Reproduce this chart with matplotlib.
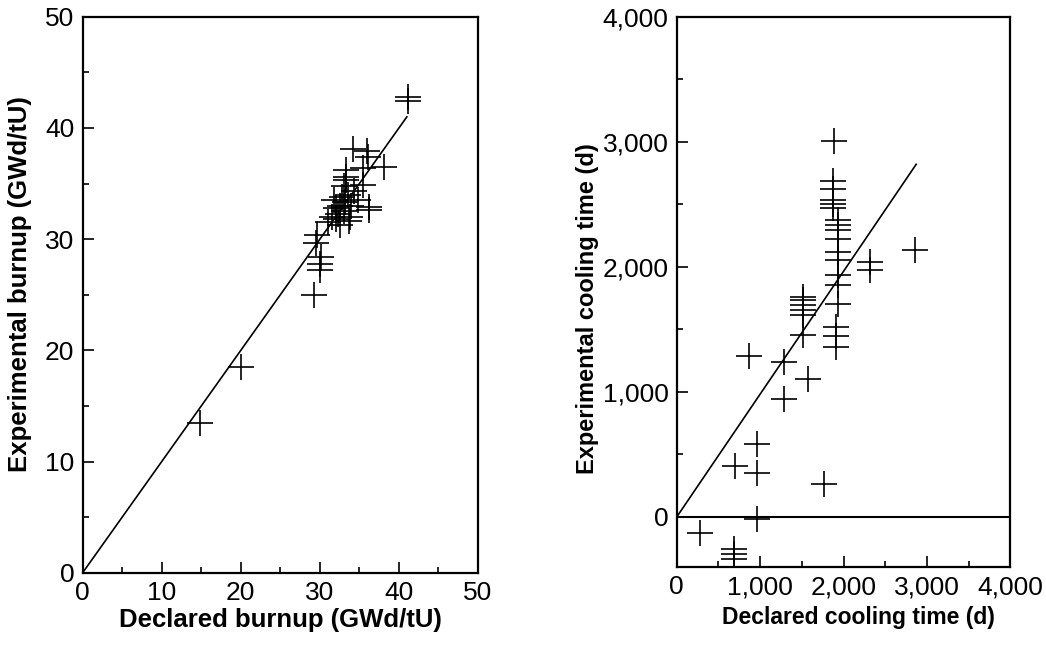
import matplotlib
matplotlib.use("Agg")
import matplotlib.pyplot as plt
from matplotlib.ticker import MultipleLocator, StrMethodFormatter

plt.rcParams['font.family'] = ['Liberation Sans', 'DejaVu Sans']

# burnup (GWd/tU): declared vs experimental
burnup_declared = [14.9, 20.0, 29.3, 30.0, 30.0, 30.1, 29.5, 29.7, 31.0, 31.5,
                   32.0, 32.3, 32.0, 32.5, 33.0, 33.2, 32.8, 33.5, 34.0, 33.8,
                   32.5, 31.8, 34.3, 33.0, 33.3, 33.3, 33.3, 35.5, 35.4, 36.1,
                   36.0, 34.2, 38.1, 36.2, 36.2, 41.2, 41.2, 34.8, 33.7]
burnup_experimental = [13.5, 18.5, 25.0, 27.2, 27.8, 28.4, 29.7, 30.4, 31.5, 32.0,
                       31.8, 32.3, 32.8, 33.0, 32.5, 33.3, 33.8, 34.0, 33.0, 32.0,
                       31.3, 33.5, 34.3, 34.8, 35.3, 35.6, 36.2, 34.9, 36.4, 37.4,
                       37.9, 38.1, 36.5, 32.6, 32.9, 42.8, 42.4, 33.5, 31.6]
burnup_line_x = [0, 41]
burnup_line_y = [0, 41]

# cooling time (d): declared vs experimental
cool_declared = [1880, 1877, 1877, 1877, 1877, 1877, 1937, 1937, 1937, 1937,
                 1937, 1937, 1937, 1937, 1937, 1910, 1910, 1910,
                 2320, 2320, 2860, 1516, 1516, 1516, 1516, 1516, 1509,
                 870, 1280, 1570, 1285, 965, 700, 965, 1760, 965, 280,
                 690, 690, 690]
cool_experimental = [3010, 2683, 2624, 2536, 2504, 2469, 2371, 2336, 2291, 2224,
                     2117, 2051, 1931, 1851, 1704, 1517, 1451, 1363,
                     2037, 1971, 2131, 1757, 1731, 1691, 1651, 1611, 1456,
                     1285, 1240, 1100, 945, 585, 410, 355, 260, -15, -130,
                     -260, -300, -340]
cool_line_x = [0, 2870]
cool_line_y = [0, 2820]

fig = plt.figure(figsize=(10.46, 6.45), dpi=100)
ax1 = fig.add_axes([0.079, 0.112, 0.378, 0.862])
ax2 = fig.add_axes([0.647, 0.121, 0.319, 0.853])

mk = dict(linestyle='none', marker='+', color='black', markersize=19, markeredgewidth=1.2)

ax1.plot(burnup_declared, burnup_experimental, **mk)
ax1.plot(burnup_line_x, burnup_line_y, color='black', linewidth=1.2)
ax1.set_xlim(0, 50)
ax1.set_ylim(0, 50)
ax1.xaxis.set_major_locator(MultipleLocator(10))
ax1.xaxis.set_minor_locator(MultipleLocator(5))
ax1.yaxis.set_major_locator(MultipleLocator(10))
ax1.yaxis.set_minor_locator(MultipleLocator(5))
ax1.set_xlabel('Declared burnup (GWd/tU)', fontsize=18.5, fontweight='bold')
ax1.set_ylabel('Experimental burnup (GWd/tU)', fontsize=18.5, fontweight='bold')
ax1.xaxis.set_label_coords(0.5, -0.063)
ax1.yaxis.set_label_coords(-0.127, 0.52)

ax2.plot(cool_declared, cool_experimental, **mk)
ax2.plot(cool_line_x, cool_line_y, color='black', linewidth=1.2)
ax2.axhline(0, color='black', linewidth=1.5)
ax2.set_xlim(0, 4000)
ax2.set_ylim(-400, 4000)
ax2.xaxis.set_major_locator(MultipleLocator(1000))
ax2.xaxis.set_minor_locator(MultipleLocator(500))
ax2.yaxis.set_major_locator(MultipleLocator(1000))
ax2.yaxis.set_minor_locator(MultipleLocator(500))
ax2.xaxis.set_major_formatter(StrMethodFormatter('{x:,.0f}'))
ax2.yaxis.set_major_formatter(StrMethodFormatter('{x:,.0f}'))
ax2.set_xlabel('Declared cooling time (d)', fontsize=16.5, fontweight='bold')
ax2.set_ylabel('Experimental cooling time (d)', fontsize=17, fontweight='bold')
ax2.xaxis.set_label_coords(0.545, -0.071)
ax2.yaxis.set_label_coords(-0.232, 0.47)

for ax in (ax1, ax2):
    for s in ax.spines.values():
        s.set_linewidth(1.6)
    ax.tick_params(which='both', direction='in', labelsize=19, width=1.2)
    ax.tick_params(which='major', length=8, pad=6)
    ax.tick_params(which='minor', length=4)

fig.savefig('out.png', dpi=100)
